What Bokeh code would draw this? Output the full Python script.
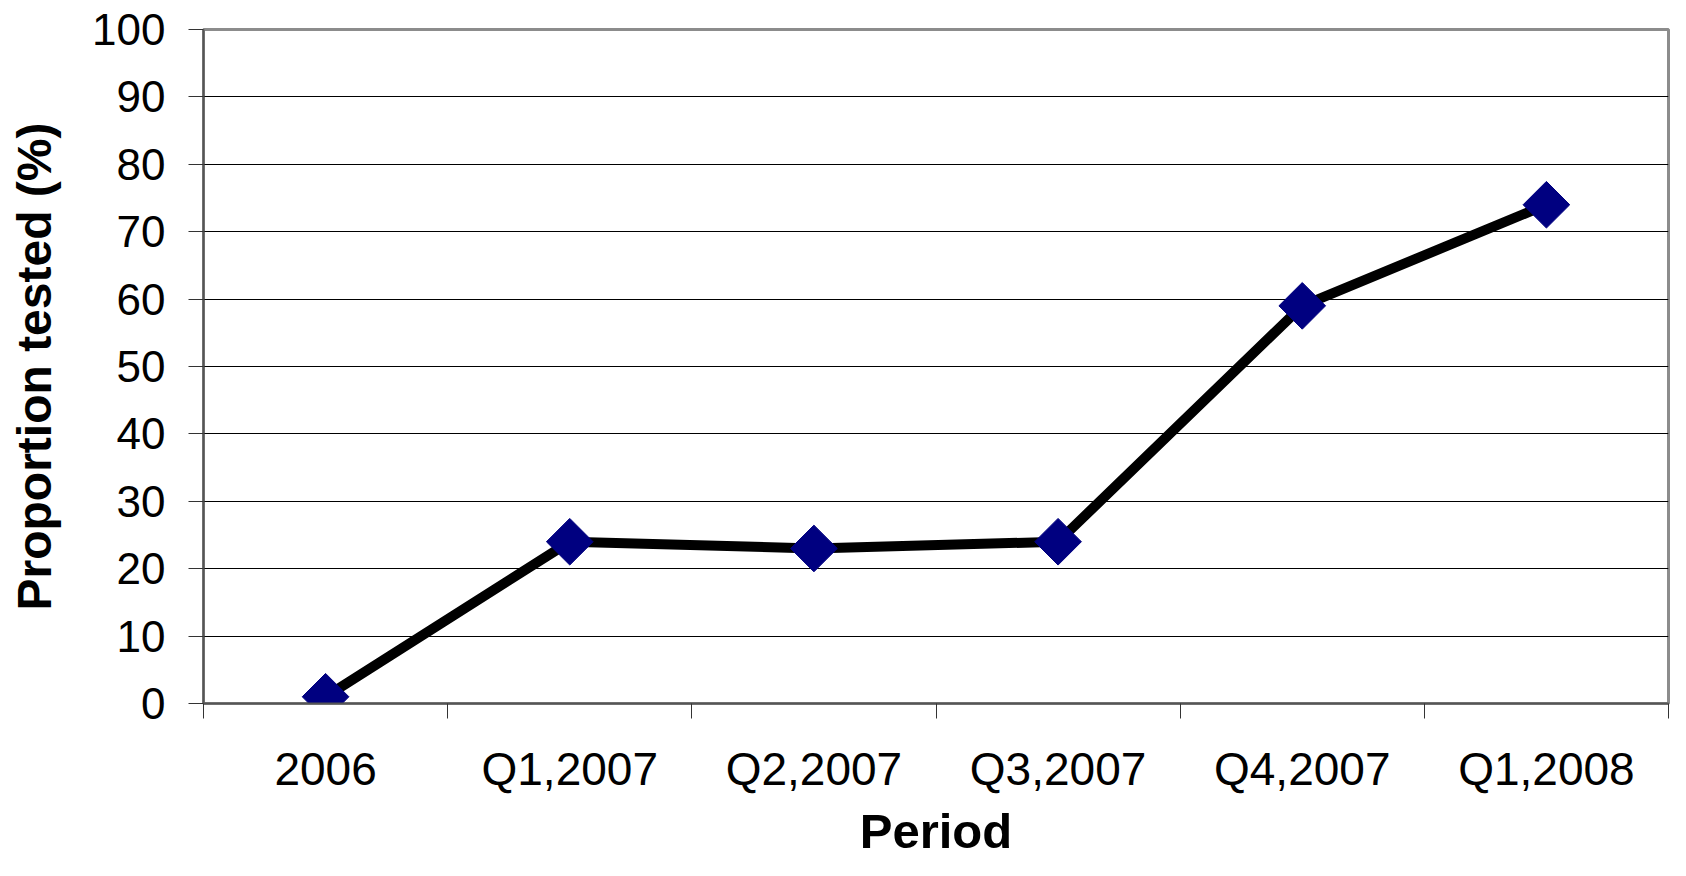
import numpy as np
from bokeh.plotting import figure
from bokeh.models import FixedTicker, Range1d
from bokeh.embed import file_html
from bokeh.resources import INLINE

periods = ["2006", "Q1,2007", "Q2,2007", "Q3,2007", "Q4,2007", "Q1,2008"]
proportion_tested = [1, 24, 23, 24, 59, 74]
y_ticks = [0, 10, 20, 30, 40, 50, 60, 70, 80, 90, 100]

x_pos = [i + 0.5 for i in range(len(periods))]
boundaries = list(range(len(periods) + 1))

p = figure(width=1670, height=860, output_backend="svg", toolbar_location=None,
           x_range=Range1d(0, len(periods)), y_range=Range1d(0, 100),
           min_border_left=203, min_border_top=29, min_border_right=2,
           min_border_bottom=150)

p.background_fill_color = "white"
p.border_fill_color = "white"
p.outline_line_color = "#8c8c8c"
p.outline_line_width = 3

# grid
p.xgrid.grid_line_color = None
p.ygrid.grid_line_color = "black"
p.ygrid.grid_line_width = 1
p.ygrid.ticker = FixedTicker(ticks=y_ticks)

font = "Liberation Sans"

# x axis
xa = p.xaxis[0]
xa.ticker = FixedTicker(ticks=x_pos, minor_ticks=boundaries)
xa.major_label_overrides = {x: lbl for x, lbl in zip(x_pos, periods)}
xa.major_tick_line_color = None
xa.major_tick_out = 0
xa.major_tick_in = 0
xa.minor_tick_out = 15
xa.minor_tick_in = 0
xa.minor_tick_line_color = "#333333"
xa.minor_tick_line_width = 1
xa.axis_line_color = "#555555"
xa.axis_line_width = 2
xa.major_label_text_font = font
xa.major_label_text_font_size = "46px"
xa.major_label_text_color = "black"
xa.major_label_standoff = 24
xa.axis_label = "Period"
xa.axis_label_text_font = font
xa.axis_label_text_font_size = "49px"
xa.axis_label_text_font_style = "bold"
xa.axis_label_text_color = "black"
xa.axis_label_standoff = 6

# y axis
ya = p.yaxis[0]
ya.ticker = FixedTicker(ticks=y_ticks)
ya.major_tick_out = 15
ya.major_tick_in = 0
ya.major_tick_line_color = "#333333"
ya.minor_tick_line_color = None
ya.axis_line_color = "#555555"
ya.axis_line_width = 2
ya.major_label_text_font = font
ya.major_label_text_font_size = "44px"
ya.major_label_text_color = "black"
ya.major_label_standoff = 23
ya.axis_label = "Proportion tested (%)"
ya.axis_label_text_font = font
ya.axis_label_text_font_size = "48px"
ya.axis_label_text_font_style = "bold"
ya.axis_label_text_color = "black"
ya.axis_label_standoff = 28

p.line(x_pos, proportion_tested, line_color="black", line_width=10)
p.scatter(x_pos, proportion_tested, marker="square", angle=np.pi / 4, size=33,
          fill_color="#000080", line_color="#000080")

open("out.html", "w").write(file_html(p, INLINE))
